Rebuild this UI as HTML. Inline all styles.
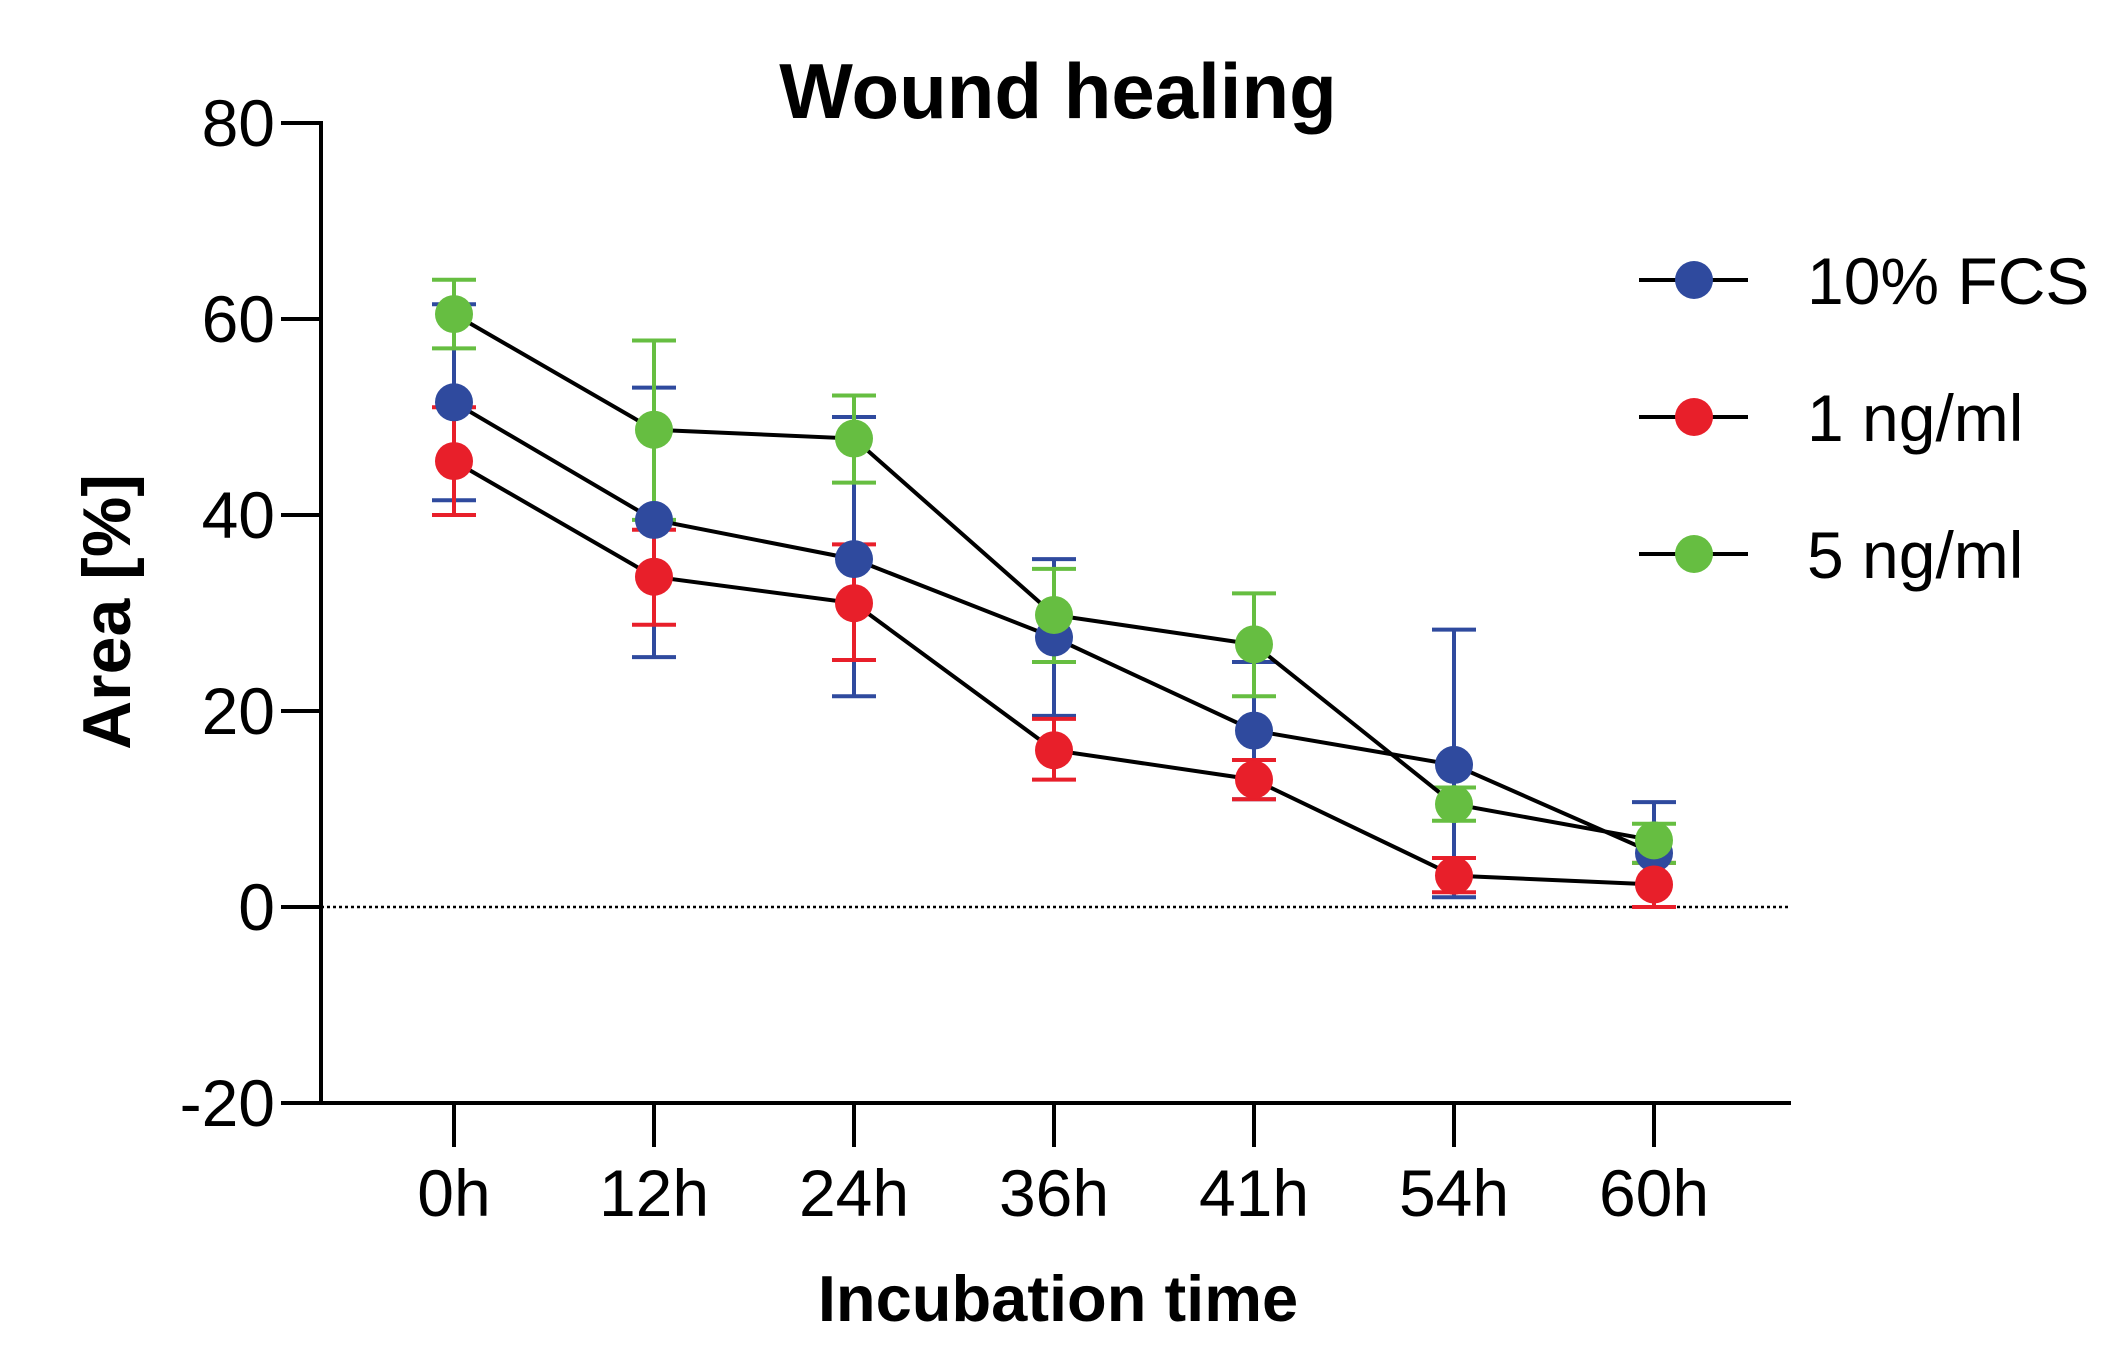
<!DOCTYPE html>
<html><head><meta charset="utf-8"><style>
html,body{margin:0;padding:0;background:#fff;}
svg{display:block;font-family:"Liberation Sans",Arial,sans-serif;}
</style></head><body>
<svg id="chart" width="2115" height="1371" viewBox="0 0 2115 1371" xmlns="http://www.w3.org/2000/svg">
<text x="1058" y="118" font-size="78" font-weight="bold" text-anchor="middle">Wound healing</text>
<text transform="translate(130,612) rotate(-90)" font-size="68" font-weight="bold" text-anchor="middle">Area [%]</text>
<text x="1058" y="1321" font-size="65" font-weight="bold" text-anchor="middle">Incubation time</text>
<g id="axes"></g>
<g id="series"></g>
<g id="legend"></g>
</svg>
<script>
const categories = ["0h","12h","24h","36h","41h","54h","60h"];
const yTicks = [80,60,40,20,0,-20];
const seriesNames = ["10% FCS","1 ng/ml","5 ng/ml"];
const fcsMean = [51.5,39.5,35.5,27.5,18,14.5,5.5];
const fcsLo = [41.5,25.5,21.5,19.5,11,1,0];
const fcsHi = [61.5,53,50,35.5,25,28.3,10.7];
const ng1Mean = [45.5,33.7,31,16,13,3.2,2.3];
const ng1Lo = [40,28.8,25.2,13,11,1.5,0];
const ng1Hi = [51,38.5,37,19.2,15,5,4.5];
const ng5Mean = [60.5,48.7,47.8,29.8,26.8,10.5,6.8];
const ng5Lo = [57,39.5,43.3,25,21.5,8.8,4.5];
const ng5Hi = [64,57.8,52.2,34.5,32,12.2,8.5];

const NS="http://www.w3.org/2000/svg";
const X0=321, X1=1791, Y0=907, PER=196/20;
const xs = i => 454 + i*200;
const ys = v => Y0 - v*PER;
function mk(tag, attrs, parent){const e=document.createElementNS(NS,tag);for(const k in attrs)e.setAttribute(k,attrs[k]);parent.appendChild(e);return e;}
const axes=document.getElementById('axes');
let e;
e=mk('line',{x1:X0,y1:ys(80)-2,x2:X0,y2:ys(-20)+2,stroke:'#000','stroke-width':4},axes);


e=mk('line',{x1:X0-2,y1:ys(-20),x2:X1,y2:ys(-20),stroke:'#000','stroke-width':4},axes);


e=mk('line',{x1:X0,y1:ys(0),x2:X1,y2:ys(0),stroke:'#000','stroke-width':2.5,'stroke-dasharray':'3,3'},axes);


yTicks.forEach(v=>{
  const t=mk('line',{x1:X0-40,y1:ys(v),x2:X0,y2:ys(v),stroke:'#000','stroke-width':4},axes);
  
  
  const l=mk('text',{x:X0-46,y:ys(v)+23,'font-size':66,'text-anchor':'end'},axes);
  l.textContent=v;
  
  
});
categories.forEach((c,i)=>{
  const t=mk('line',{x1:xs(i),y1:ys(-20),x2:xs(i),y2:ys(-20)+44,stroke:'#000','stroke-width':4},axes);
  
  
  const l=mk('text',{x:xs(i),y:1216,'font-size':66,'text-anchor':'middle'},axes);
  l.textContent=c;
  
  
});
const series=[
 {mean:fcsMean,lo:fcsLo,hi:fcsHi,color:'#2f4a9e',name:'fcs'},
 {mean:ng1Mean,lo:ng1Lo,hi:ng1Hi,color:'#e81f2a',name:'1ng'},
 {mean:ng5Mean,lo:ng5Lo,hi:ng5Hi,color:'#66be41',name:'5ng'}];
const sg=document.getElementById('series');
series.forEach(s=>{
  s.mean.forEach((m,i)=>{
    const g=mk('g',{stroke:s.color,'stroke-width':4},sg);
    
    
    mk('line',{x1:xs(i),y1:ys(s.lo[i]),x2:xs(i),y2:ys(s.hi[i])},g);
    mk('line',{x1:xs(i)-22,y1:ys(s.lo[i]),x2:xs(i)+22,y2:ys(s.lo[i])},g);
    mk('line',{x1:xs(i)-22,y1:ys(s.hi[i]),x2:xs(i)+22,y2:ys(s.hi[i])},g);
  });
});
series.forEach(s=>{
  const p=mk('polyline',{points:s.mean.map((m,i)=>xs(i)+','+ys(m)).join(' '),fill:'none',stroke:'#000','stroke-width':4},sg);
  
  
});
series.forEach(s=>{
  s.mean.forEach((m,i)=>{
    const c=mk('circle',{cx:xs(i),cy:ys(m),r:19,fill:s.color},sg);
    
    
  });
});
const lg=document.getElementById('legend');
series.forEach((s,k)=>{
  const y=280+k*137;
  const g=mk('g',{},lg);
  
  
  mk('line',{x1:1639,y1:y,x2:1748,y2:y,stroke:'#000','stroke-width':4},g);
  mk('circle',{cx:1694,cy:y,r:19,fill:s.color},g);
  const t=mk('text',{x:1807,y:y+24,'font-size':66},g);
  t.textContent=seriesNames[k];
});
</script>
</body></html>
